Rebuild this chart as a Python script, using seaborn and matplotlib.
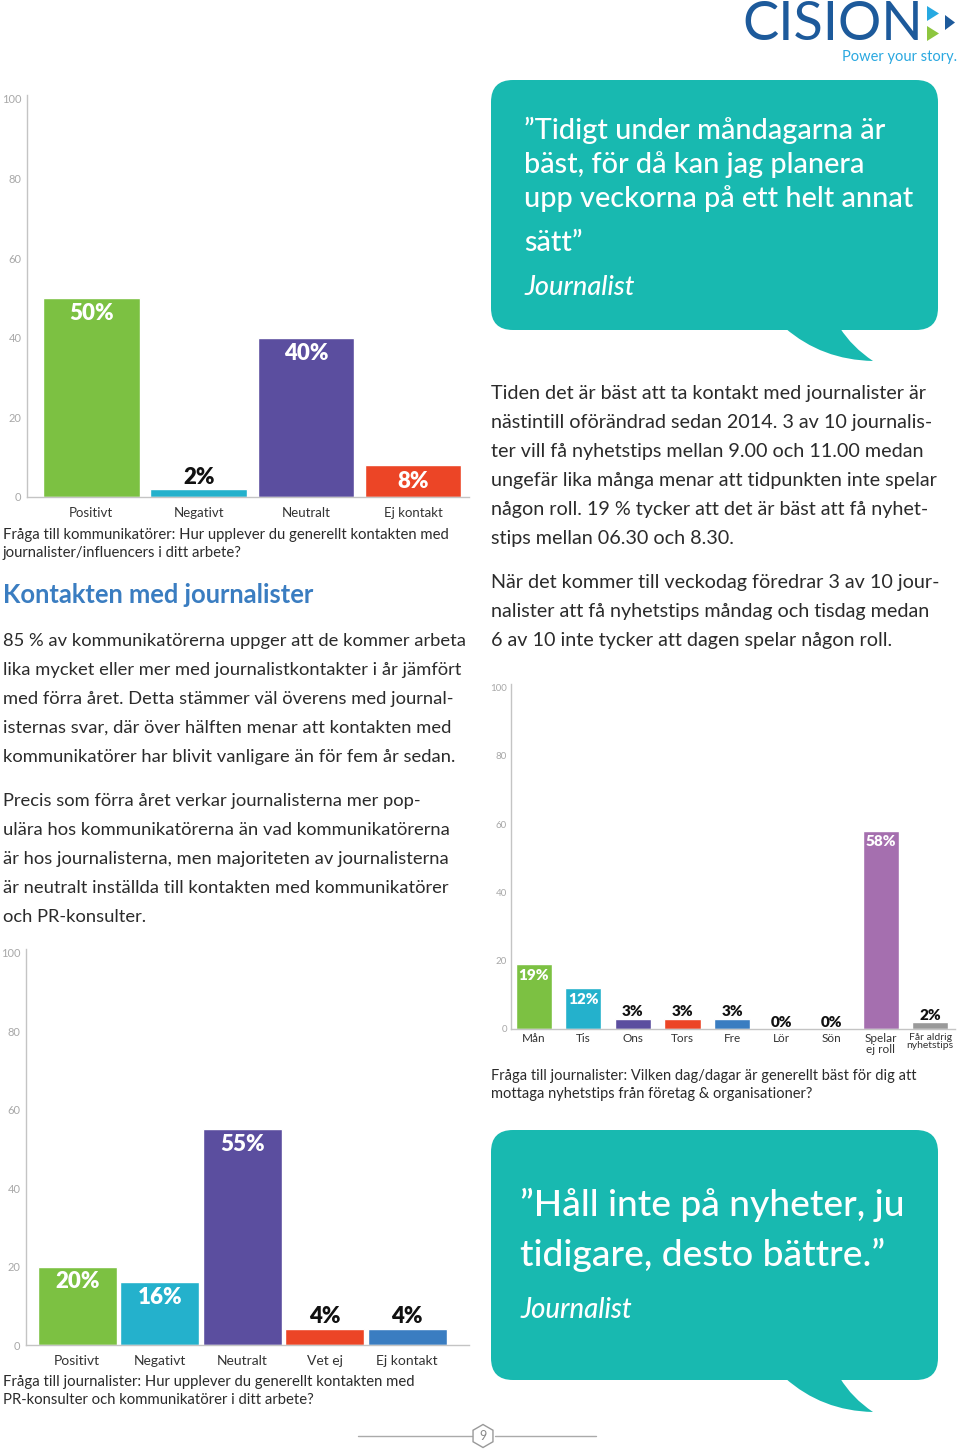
import matplotlib
matplotlib.use("Agg")
import matplotlib.pyplot as plt
import seaborn as sns
import pandas as pd
from matplotlib.patches import FancyBboxPatch, PathPatch, RegularPolygon, Polygon
from matplotlib.path import Path

# ---------------- data ----------------
c1_categories = ["Positivt", "Negativt", "Neutralt", "Ej kontakt"]
c1_values = [50, 2, 40, 8]

c2_categories = ["Mån", "Tis", "Ons", "Tors", "Fre", "Lör", "Sön",
                 "Spelar\nej roll", "Får aldrig\nnyhetstips"]
c2_values = [19, 12, 3, 3, 3, 0, 0, 58, 2]

c3_categories = ["Positivt", "Negativt", "Neutralt", "Vet ej", "Ej kontakt"]
c3_values = [20, 16, 55, 4, 4]

y_ticks = [0, 20, 40, 60, 80, 100]

GREEN, CYAN, PURPLE, RED, BLUE, MAUVE, GREY = (
    "#7CC142", "#24B1CC", "#5B4E9F", "#EC4526", "#3A7DC1", "#A56FAF", "#9A9A9A")
c1_colors = [GREEN, CYAN, PURPLE, RED]
c2_colors = [GREEN, CYAN, PURPLE, RED, BLUE, BLUE, BLUE, MAUVE, GREY]
c3_colors = [GREEN, CYAN, PURPLE, RED, BLUE]

c1_caption = ["Fråga till kommunikatörer: Hur upplever du generellt kontakten med",
              "journalister/influencers i ditt arbete?"]
c2_caption = ["Fråga till journalister: Vilken dag/dagar är generellt bäst för dig att",
              "mottaga nyhetstips från företag & organisationer?"]
c3_caption = ["Fråga till journalister: Hur upplever du generellt kontakten med",
              "PR-konsulter och kommunikatörer i ditt arbete?"]

heading = "Kontakten med journalister"
left_para1 = ["85 % av kommunikatörerna uppger att de kommer arbeta",
              "lika mycket eller mer med journalistkontakter i år jämfört",
              "med förra året. Detta stämmer väl överens med journal-",
              "isternas svar, där över hälften menar att kontakten med",
              "kommunikatörer har blivit vanligare än för fem år sedan."]
left_para2 = ["Precis som förra året verkar journalisterna mer pop-",
              "ulära hos kommunikatörerna än vad kommunikatörerna",
              "är hos journalisterna, men majoriteten av journalisterna",
              "är neutralt inställda till kontakten med kommunikatörer",
              "och PR-konsulter."]
right_para1 = ["Tiden det är bäst att ta kontakt med journalister är",
               "nästintill oförändrad sedan 2014. 3 av 10 journalis-",
               "ter vill få nyhetstips mellan 9.00 och 11.00 medan",
               "ungefär lika många menar att tidpunkten inte spelar",
               "någon roll. 19 % tycker att det är bäst att få nyhet-",
               "stips mellan 06.30 och 8.30."]
right_para2 = ["När det kommer till veckodag föredrar 3 av 10 jour-",
               "nalister att få nyhetstips måndag och tisdag medan",
               "6 av 10 inte tycker att dagen spelar någon roll."]
quote1 = ["”Tidigt under måndagarna är", "bäst, för då kan jag planera",
          "upp veckorna på ett helt annat", "sätt”"]
quote2 = ["”Håll inte på nyheter, ju", "tidigare, desto bättre.”"]
quote_author = "Journalist"

# ---------------- style ----------------
sns.set_theme(style="white")
plt.rcParams["font.family"] = ["Lato", "DejaVu Sans"]

W, H = 960, 1450
fig = plt.figure(figsize=(W / 100, H / 100), dpi=100)
fig.patch.set_facecolor("white")

bg = fig.add_axes([0, 0, 1, 1])
bg.set_xlim(0, W)
bg.set_ylim(H, 0)
bg.axis("off")
bg.set_zorder(0)

TEAL = "#18B9B0"
TXT = "#2b2b2b"


def ax_px(x0, ytop, x1, ybot):
    return fig.add_axes([x0 / W, 1 - ybot / H, (x1 - x0) / W, (ybot - ytop) / H])


def bar_chart(ax, cats, vals, colors, width, xlim, lab_fs, tick_fs, xlab_fs,
              ypad, xpad, in_off, out_off, thresh):
    df = pd.DataFrame({"cat": cats, "val": vals})
    sns.barplot(data=df, x="cat", y="val", hue="cat", order=cats, hue_order=cats,
                palette=colors, legend=False, width=width, saturation=1, ax=ax)
    ax.set_xlim(*xlim)
    ax.set_ylim(0, 101)
    ax.set_yticks(y_ticks)
    ax.set_xlabel("")
    ax.set_ylabel("")
    ax.patch.set_alpha(0)
    for s in ("top", "right"):
        ax.spines[s].set_visible(False)
    for s in ("left", "bottom"):
        ax.spines[s].set_color("#c4c4c4")
        ax.spines[s].set_linewidth(1.0)
    ax.tick_params(axis="y", length=0, pad=ypad, labelsize=tick_fs, labelcolor="#a8a8a8")
    ax.tick_params(axis="x", length=0, pad=xpad, labelsize=xlab_fs, labelcolor="#333333")
    for i, v in enumerate(vals):
        if v >= thresh:
            ax.annotate(f"{v}%", (i, v), xytext=(0, -in_off), textcoords="offset points",
                        ha="center", va="center", color="white", fontsize=lab_fs,
                        fontweight="heavy")
        else:
            ax.annotate(f"{v}%", (i, v), xytext=(0, out_off), textcoords="offset points",
                        ha="center", va="center", color="#111111", fontsize=lab_fs,
                        fontweight="heavy")
    return ax


# ---- chart 1 (top-left) ----
ax1 = ax_px(27, 95, 469, 497)
bar_chart(ax1, c1_categories, c1_values, c1_colors, 0.9, (-0.6, 3.52),
          16, 8, 9.5, 4, 7, 11.5, 8, 8)

# ---- chart 2 (right, weekdays) ----
ax2 = ax_px(511, 684, 955, 1029)
bar_chart(ax2, c2_categories, c2_values, c2_colors, 0.73, (-0.46, 8.5),
          11, 7, 8.5, 3, 3, 8, 5, 10)
for lab in ax2.get_xticklabels():
    if lab.get_text().startswith("Får"):
        lab.set_fontsize(7.5)
        lab.set_linespacing(0.85)
    elif lab.get_text().startswith("Spelar"):
        lab.set_linespacing(0.95)

# ---- chart 3 (bottom-left) ----
ax3 = ax_px(26, 949, 469, 1345)
bar_chart(ax3, c3_categories, c3_values, c3_colors, 0.96, (-0.62, 4.75),
          16, 8, 10, 4, 7, 11, 9, 8)


# ---------------- page text ----------------
def lines(x, y0, dy, items, **kw):
    for k, t in enumerate(items):
        bg.text(x, y0 + k * dy, t, va="center", ha="left", **kw)


lines(3, 535, 17.5, c1_caption, fontsize=10.7, color=TXT)
lines(491, 1076, 18, c2_caption, fontsize=10.5, color=TXT)
lines(3, 1382, 18, c3_caption, fontsize=10.7, color=TXT)

bg.text(3, 595, heading, fontsize=18.4, fontweight="bold", color="#3A7DC1",
        va="center", ha="left")
lines(3, 641, 29, left_para1, fontsize=13.2, color=TXT)
lines(3, 801, 29, left_para2, fontsize=13.2, color=TXT)
lines(491, 393, 29, right_para1, fontsize=14.2, color=TXT)
lines(491, 582, 29, right_para2, fontsize=14.2, color=TXT)


# ---------------- speech bubbles ----------------
def bubble(x0, y0, x1, y1, tail):
    box = FancyBboxPatch((x0, y0), x1 - x0, y1 - y0,
                         boxstyle="round,pad=0,rounding_size=22",
                         facecolor=TEAL, edgecolor="none", zorder=1)
    bg.add_patch(box)
    (ax_, ay_), (cx1, cy1), (tx, ty), (cx2, cy2), (bx, by) = tail
    verts = [(ax_, ay_), (cx1, cy1), (tx, ty), (cx2, cy2), (bx, by), (ax_, ay_)]
    codes = [Path.MOVETO, Path.CURVE3, Path.CURVE3, Path.CURVE3, Path.CURVE3, Path.CLOSEPOLY]
    bg.add_patch(PathPatch(Path(verts, codes), facecolor=TEAL, edgecolor="none", zorder=1))


bubble(491, 80, 938, 330, [(785, 328), (822, 360), (873, 361), (852, 347), (840, 328)])
bubble(491, 1130, 938, 1380, [(785, 1378), (822, 1411), (873, 1412), (852, 1398), (840, 1378)])

q1_y = [130, 165, 199, 243]
for t, y in zip(quote1, q1_y):
    bg.text(524, y, t, fontsize=20.8, fontweight="medium", color="white",
            va="center", ha="left", zorder=3)
bg.text(524, 287, quote_author, fontsize=19.5, fontweight="medium", color="white",
        style="italic", va="center", ha="left", zorder=3)

q2_y = [1205, 1255]
for t, y in zip(quote2, q2_y):
    bg.text(520, y, t, fontsize=26.8, fontweight="medium", color="white",
            va="center", ha="left", zorder=3)
bg.text(520, 1310, quote_author, fontsize=19.8, fontweight="medium", color="white",
        style="italic", va="center", ha="left", zorder=3)

# ---------------- logo ----------------
bg.text(742, 40, "CISION", fontsize=39, color="#1D5A9B", va="baseline", ha="left")
bg.add_patch(Polygon([(927, 6), (939, 13.5), (927, 21)], closed=True, facecolor="#27A9E1", edgecolor="none"))
bg.add_patch(Polygon([(927, 26), (939, 33.5), (927, 41)], closed=True, facecolor="#8DC63F", edgecolor="none"))
bg.add_patch(Polygon([(945, 15), (955, 22.5), (945, 30)], closed=True, facecolor="#1D5A9B", edgecolor="none"))
bg.text(957, 57, "Power your story.", fontsize=10.5, color="#2AA8E0", va="center", ha="right")

# ---------------- page number ----------------
bg.plot([358, 471.5], [1436, 1436], color="#aaaaaa", lw=1)
bg.plot([494.5, 596], [1436, 1436], color="#aaaaaa", lw=1)
bg.add_patch(RegularPolygon((483, 1436), 6, radius=11.5, facecolor="white",
                            edgecolor="#999999", lw=1, zorder=3))
bg.text(483, 1436, "9", fontsize=9, color="#888888", ha="center", va="center", zorder=4)

fig.savefig("out.png", dpi=100, facecolor="white")
